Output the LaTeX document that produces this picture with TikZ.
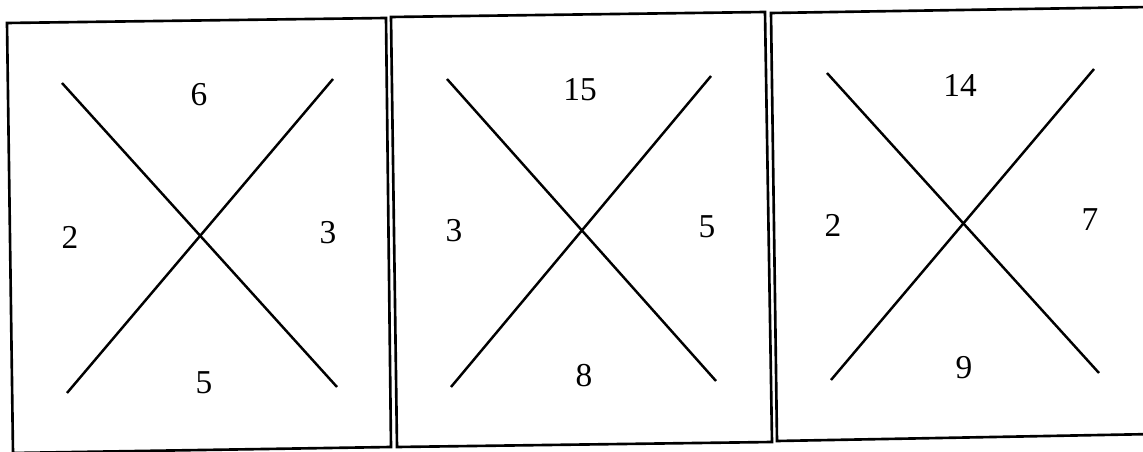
\documentclass[tikz,border=0pt]{standalone}
\usepackage{fontspec}
\setmainfont{Liberation Serif}
\usepackage{tikz}
\tikzset{
  frame/.style={line width=1.5pt,line join=miter},
  cross/.style={line width=1.4pt},
  num/.style={inner sep=0pt,font=\fontsize{19}{22}\selectfont}
}

\begin{document}
\begin{tikzpicture}[x=0.02cm,y=-0.02cm]
      \useasboundingbox (0,0) rectangle (1143,452);
      \clip (0,0) rectangle (1143,452);

      % box 1
      \coordinate (f1a) at (7,23);   \coordinate (f1b) at (386,18);
      \coordinate (f1c) at (391,447); \coordinate (f1d) at (13,453);
      \draw[frame] (f1a) -- (f1b) -- (f1c) -- (f1d) -- cycle;
      \coordinate (x1nw) at (62,83);  \coordinate (x1se) at (337,387);
      \coordinate (x1ne) at (333,79); \coordinate (x1sw) at (67,393);
      \draw[cross] (x1nw) -- (x1se);
      \draw[cross] (x1ne) -- (x1sw);
      \node[num] (t1) at (199,95) {6};
      \node[num] (l1) at (70,237) {2};
      \node[num] (r1) at (328,233) {3};
      \node[num] (d1) at (204,383) {5};

      % box 2
      \coordinate (f2a) at (391,17);  \coordinate (f2b) at (765,12);
      \coordinate (f2c) at (772,442); \coordinate (f2d) at (397,447);
      \draw[frame] (f2a) -- (f2b) -- (f2c) -- (f2d) -- cycle;
      \coordinate (x2nw) at (447,79); \coordinate (x2se) at (716,381);
      \coordinate (x2ne) at (711,76); \coordinate (x2sw) at (451,387);
      \draw[cross] (x2nw) -- (x2se);
      \draw[cross] (x2ne) -- (x2sw);
      \node[num] (t2) at (580,90) {15};
      \node[num] (l2) at (454,231) {3};
      \node[num] (r2) at (707,227) {5};
      \node[num] (d2) at (584,376) {8};

      % box 3
      \coordinate (f3a) at (771,13);   \coordinate (f3b) at (1150,7);
      \coordinate (f3c) at (1155,434); \coordinate (f3d) at (777,441);
      \draw[frame] (f3a) -- (f3b) -- (f3c) -- (f3d) -- cycle;
      \coordinate (x3nw) at (827,73);  \coordinate (x3se) at (1099,373);
      \coordinate (x3ne) at (1094,69); \coordinate (x3sw) at (831,380);
      \draw[cross] (x3nw) -- (x3se);
      \draw[cross] (x3ne) -- (x3sw);
      \node[num] (t3) at (960,85) {14};
      \node[num] (l3) at (833,225) {2};
      \node[num] (r3) at (1090,220) {7};
      \node[num] (d3) at (964,368) {9};

\end{tikzpicture}
\end{document}
